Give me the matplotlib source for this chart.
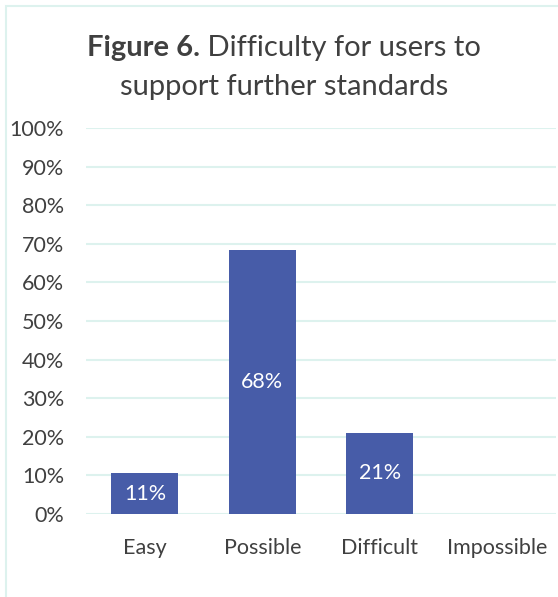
import matplotlib
matplotlib.use("Agg")
import matplotlib.pyplot as plt
from matplotlib.patches import Rectangle

categories = ["Easy", "Possible", "Difficult", "Impossible"]
values = [10.6, 68.4, 21.0, 0.0]
labels = ["11%", "68%", "21%", ""]
yticks = [0, 10, 20, 30, 40, 50, 60, 70, 80, 90, 100]
ytick_labels = [f"{t}%" for t in yticks]

W, H = 558, 597
DPI = 100
FONT = "Lato"
TXT = "#404040"
BAR = "#475ca8"
GRID = "#ddf2ee"
FS = 15.5

fig = plt.figure(figsize=(W / DPI, H / DPI), dpi=DPI)
fig.patch.set_facecolor("white")

# outer frame (extends beyond right/bottom edges)
fig.patches.append(Rectangle((6 / W, -0.1), 1.2, 1 - 6 / H + 0.1,
                             transform=fig.transFigure, fill=False,
                             edgecolor=GRID, linewidth=1.5))

ax = fig.add_axes([86.25 / W, 1 - 514 / H, (556 - 86.25) / W, (514 - 128) / H])
x = list(range(len(categories)))
bars = ax.bar(x, values, width=0.57, color=BAR, zorder=3)
ax.set_xlim(-0.5, len(categories) - 0.5)
ax.set_ylim(0, 100)
ax.set_yticks(yticks)
ax.set_yticklabels(ytick_labels, fontsize=FS, color=TXT, family=FONT)
ax.set_xticks(x)
ax.set_xticklabels(categories, fontsize=FS, color=TXT, family=FONT)
ax.tick_params(axis="both", length=0)
ax.tick_params(axis="y", pad=16)
ax.tick_params(axis="x", pad=17)
for s in ax.spines.values():
    s.set_visible(False)
ax.grid(axis="y", color=GRID, linewidth=1.5, zorder=0)
ax.set_axisbelow(True)

for b, v, lab in zip(bars, values, labels):
    if lab:
        ax.text(b.get_x() + b.get_width() / 2, v / 2, lab, ha="center", va="center",
                color="white", fontsize=FS, family=FONT, zorder=4)

# title with bold prefix
cx = 284 / W
y1 = 1 - 48 / H
y2 = 1 - 87 / H
tsize = 21
t_bold = fig.text(0, y1, "Figure 6.", fontsize=tsize, fontweight="bold", color=TXT,
                  family=FONT, va="center", ha="left")
t_norm = fig.text(0, y1, " Difficulty for users to", fontsize=tsize, color=TXT,
                  family=FONT, va="center", ha="left")
fig.canvas.draw()
r = fig.canvas.get_renderer()
wb = t_bold.get_window_extent(r).width / W
wn = t_norm.get_window_extent(r).width / W
start = cx - (wb + wn) / 2
t_bold.set_x(start)
t_norm.set_x(start + wb)
fig.text(cx, y2, "support further standards", fontsize=tsize, color=TXT,
         family=FONT, va="center", ha="center")

fig.savefig("out.png", dpi=DPI)
